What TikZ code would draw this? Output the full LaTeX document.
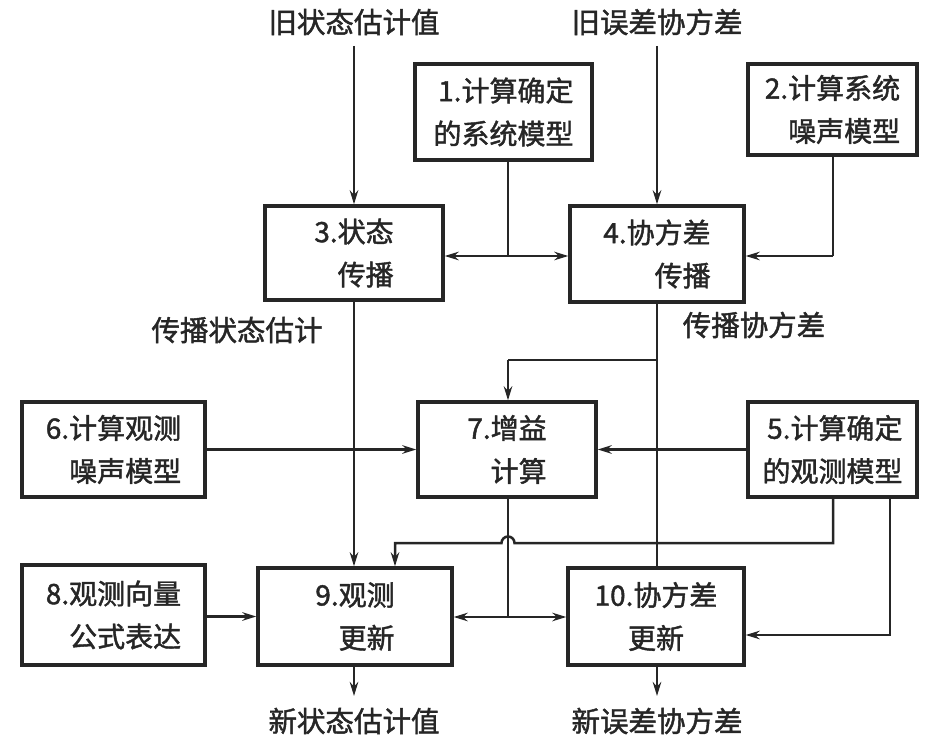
\documentclass[tikz,border=0pt]{standalone}
\usepackage{fontspec}
\setmainfont{Liberation Serif}
\newfontfamily\cjk[FakeBold=1.5]{Noto Sans CJK SC}
\usetikzlibrary{arrows.meta}
\definecolor{ink}{HTML}{262626}
\tikzset{
  box/.style={draw=ink, line width=3.4pt, minimum width=#1, inner sep=0pt, align=right,
              font=\fontsize{28}{43}\selectfont\cjk, text=ink},
  lbl/.style={font=\fontsize{28.5}{30}\selectfont\cjk, text=ink, inner sep=0pt},
  conn/.style={draw=ink, line width=2.5pt},
  arr/.style={conn, -{Stealth[length=14pt,width=8.5pt]}},
}
\begin{document}
\begin{tikzpicture}[x=1pt,y=-1pt]
\useasboundingbox (0,0) rectangle (950,751);
% boxes
\node[box=177pt, minimum height=96pt] (b1) at (503.5,112) {1.计算确定\\的系统模型};
\node[box=169pt, minimum height=91pt] (b2) at (832.5,109.5) {2.计算系统\\噪声模型};
\node[box=178pt, minimum height=94pt] (b3) at (354,253) {3.状态\\传播};
\node[box=174pt, minimum height=96pt] (b4) at (657,254) {4.协方差\\传播};
\node[box=183pt, minimum height=95pt] (b6) at (113.5,449.5) {6.计算观测\\噪声模型};
\node[box=178pt, minimum height=95pt] (b7) at (507,449.5) {7.增益\\计算};
\node[box=169pt, minimum height=95pt] (b5) at (832.5,449.5) {5.计算确定\\的观测模型};
\node[box=183pt, minimum height=100pt] (b8) at (113.5,615) {8.观测向量\\公式表达};
\node[box=194pt, minimum height=97pt] (b9) at (355,616.5) {9.观测\\更新};
\node[box=176pt, minimum height=97pt, align=center] (b10) at (656,616.5) {10.协方差\\更新};
% labels
\node[lbl] (t1) at (354,22) {旧状态估计值};
\node[lbl] (t2) at (657,22) {旧误差协方差};
\node[lbl] (t3) at (237,330) {传播状态估计};
\node[lbl] (t4) at (754,325) {传播协方差};
\node[lbl] (t5) at (354,721) {新状态估计值};
\node[lbl] (t6) at (657,721) {新误差协方差};
% coordinates
\coordinate (s1) at (354,46);
\coordinate (s2) at (657,46);
\coordinate (j1) at (508,256);
\coordinate (j2) at (833,256);
\coordinate (j3) at (657,360);
\coordinate (j3b) at (508,360);
\coordinate (j4) at (508,617);
\coordinate (k1) at (833,543);
\coordinate (k2) at (395,543);
\coordinate (k3) at (890,635);
\coordinate (e9) at (354,696);
\coordinate (e10) at (657,696);
% connectors
\draw[arr] (s1) -- (b3.north -| s1);
\draw[arr] (s2) -- (b4.north -| s2);
\draw[conn] (b1.south -| j1) -- (j1);
\draw[arr] (j1) -- (b3.east |- j1);
\draw[arr] (j1) -- (b4.west |- j1);
\draw[conn] (b2.south -| j2) -- (j2);
\draw[arr] (j2) -- (b4.east |- j2);
\draw[arr] (b3.south -| s1) -- (b9.north -| s1);
\draw[conn] (b4.south -| s2) -- (b10.north -| s2);
\draw[conn] (j3) -- (j3b);
\draw[arr] (j3b) -- (b7.north -| j3b);
\draw[arr] (b6.east |- b7.west) -- (b7.west);
\draw[arr] (b5.west |- b7.east) -- (b7.east);
\draw[conn] (b7.south -| j4) -- (j4);
\draw[arr] (j4) -- (b9.east |- j4);
\draw[arr] (j4) -- (b10.west |- j4);
\draw[arr] (b8.east |- b9.west) -- (b9.west);
\draw[arr] (b5.south -| k1) -- (k1) -- ([xshift=6.5pt]j4 |- k1)
   arc[start angle=0, end angle=180, radius=6.5pt] -- (k2) -- (b9.north -| k2);
\draw[arr] (b5.south -| k3) -- (k3) -- (b10.east |- k3);
\draw[arr] (b9.south -| e9) -- (e9);
\draw[arr] (b10.south -| e10) -- (e10);
\end{tikzpicture}
\end{document}
